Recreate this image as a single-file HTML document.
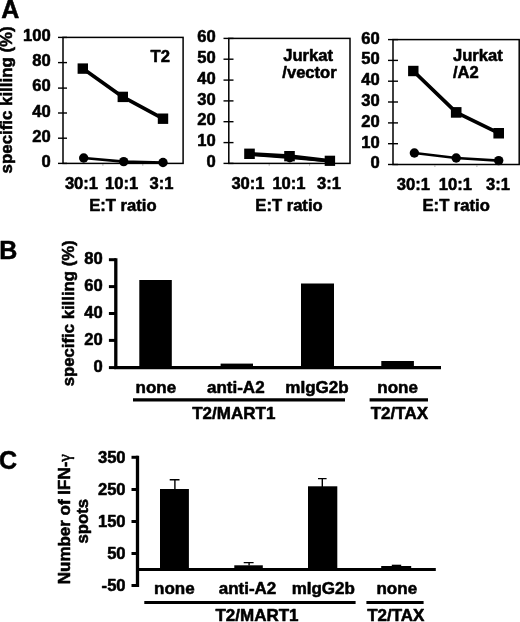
<!DOCTYPE html>
<html><head><meta charset="utf-8">
<style>
html,body{margin:0;padding:0;background:#fff;}
body{width:520px;height:622px;overflow:hidden;}
svg{display:block;will-change:transform;transform:translateZ(0);}
text{font-family:"Liberation Sans",sans-serif;font-weight:bold;fill:#000;stroke:#000;stroke-width:0.55px;stroke-linejoin:round;}
.t{font-size:16.6px;}
.e{text-anchor:end;}
.m{text-anchor:middle;}
.ax{stroke:#000;stroke-width:1.5;fill:none;}
.tk{stroke:#000;stroke-width:1.4;}
.ln{stroke:#000;stroke-width:3.7;fill:none;stroke-linejoin:round;}
.ln2{stroke:#000;stroke-width:2.6;fill:none;}
.bk{fill:#000;}
.thick{stroke:#000;stroke-width:2.8;fill:none;}
.ul{stroke:#000;stroke-width:3.2;}
.eb{stroke:#000;stroke-width:1.4;fill:none;}
</style></head><body>
<svg width="520" height="622" viewBox="0 0 520 622">
<rect width="520" height="622" fill="#fff"/>

<!-- Panel letters -->
<text x="1.2" y="17.8" style="font-size:25px">A</text>
<text x="-0.8" y="259.1" style="font-size:25px">B</text>
<text x="-1.1" y="468.8" style="font-size:25px">C</text>

<!-- ===== Panel A chart 1 ===== -->
<g>
<text class="t" transform="translate(12.4,173.4) rotate(-90)" style="font-size:16.8px" textLength="147" lengthAdjust="spacingAndGlyphs">specific killing (%)</text>
<rect class="ax" x="63" y="37.4" width="120.1" height="126"/>
<g class="tk">
<line x1="58" x2="67" y1="37.4" y2="37.4"/>
<line x1="58" x2="67" y1="62.6" y2="62.6"/>
<line x1="58" x2="67" y1="88.1" y2="88.1"/>
<line x1="58" x2="67" y1="113" y2="113"/>
<line x1="58" x2="67" y1="138.2" y2="138.2"/>
<line x1="58" x2="67" y1="163.4" y2="163.4"/>
</g>
<g class="t e">
<text x="50.7" y="41">100</text>
<text x="50.7" y="66.2">80</text>
<text x="50.7" y="91.4">60</text>
<text x="50.7" y="116.6">40</text>
<text x="50.7" y="141.8">20</text>
<text x="50.7" y="167">0</text>
</g>
<polyline class="ln" points="82.8,68.6 122.8,96.9 163,118.7"/>
<rect class="bk" x="77.6" y="63.4" width="10.4" height="10.4"/>
<rect class="bk" x="117.6" y="91.7" width="10.4" height="10.4"/>
<rect class="bk" x="157.8" y="113.5" width="10.4" height="10.4"/>
<polyline class="ln2" points="83.7,158 123.7,161.6 163,162.5"/>
<circle class="bk" cx="83.7" cy="158" r="4.7"/>
<circle class="bk" cx="123.7" cy="161.6" r="4.7"/>
<circle class="bk" cx="163" cy="162.5" r="4.7"/>
<text class="t" x="150.5" y="62">T2</text>
<g class="t m">
<text x="81.5" y="188.6">30:1</text>
<text x="121.6" y="188.6">10:1</text>
<text x="161.6" y="188.6">3:1</text>
</g>
<text class="m" x="122.9" y="211" style="font-size:16.6px">E:T ratio</text>
</g>

<!-- ===== Panel A chart 2 ===== -->
<g>
<rect class="ax" x="228.8" y="38.4" width="121.2" height="125"/>
<g class="tk">
<line x1="223.5" x2="233.5" y1="38.4" y2="38.4"/>
<line x1="223.5" x2="233.5" y1="59.2" y2="59.2"/>
<line x1="223.5" x2="233.5" y1="80.1" y2="80.1"/>
<line x1="223.5" x2="233.5" y1="100.9" y2="100.9"/>
<line x1="223.5" x2="233.5" y1="121.7" y2="121.7"/>
<line x1="223.5" x2="233.5" y1="142.6" y2="142.6"/>
<line x1="223.5" x2="233.5" y1="163.4" y2="163.4"/>
</g>
<g class="t e">
<text x="215.8" y="42">60</text>
<text x="215.8" y="62.8">50</text>
<text x="215.8" y="83.7">40</text>
<text x="215.8" y="104.5">30</text>
<text x="215.8" y="125.3">20</text>
<text x="215.8" y="146.2">10</text>
<text x="215.8" y="167">0</text>
</g>
<polyline class="ln2" points="249.7,154.6 289.8,157.6 330,161.2"/>
<circle class="bk" cx="289.8" cy="157.9" r="4.5"/>
<polyline class="ln" points="249.5,153.8 289.5,156.2 329.9,160.8"/>
<rect class="bk" x="244.2" y="148.6" width="10.6" height="10.4"/>
<rect class="bk" x="284.2" y="151" width="10.6" height="10.3"/>
<rect class="bk" x="324.7" y="155.7" width="10.4" height="10.2"/>
<text class="t" x="283.2" y="61.2">Jurkat</text>
<text class="t" x="282.3" y="78.2">/vector</text>
<g class="t m">
<text x="248" y="189">30:1</text>
<text x="289" y="189">10:1</text>
<text x="329" y="189">3:1</text>
</g>
<text class="m" x="289" y="211" style="font-size:16.6px">E:T ratio</text>
</g>

<!-- ===== Panel A chart 3 ===== -->
<g>
<rect class="ax" x="393" y="39.6" width="126.2" height="124.9"/>
<g class="tk">
<line x1="388" x2="398" y1="39.6" y2="39.6"/>
<line x1="388" x2="398" y1="60.4" y2="60.4"/>
<line x1="388" x2="398" y1="81.2" y2="81.2"/>
<line x1="388" x2="398" y1="102" y2="102"/>
<line x1="388" x2="398" y1="122.9" y2="122.9"/>
<line x1="388" x2="398" y1="143.7" y2="143.7"/>
<line x1="388" x2="398" y1="164.5" y2="164.5"/>
</g>
<g class="t e">
<text x="379.8" y="43.5">60</text>
<text x="379.8" y="64.3">50</text>
<text x="379.8" y="85.1">40</text>
<text x="379.8" y="105.9">30</text>
<text x="379.8" y="126.8">20</text>
<text x="379.8" y="147.6">10</text>
<text x="379.8" y="168.4">0</text>
</g>
<polyline class="ln" points="413.3,71 456.2,112.4 498.7,133.2"/>
<rect class="bk" x="408.1" y="65.8" width="10.4" height="10.4"/>
<rect class="bk" x="450.9" y="107.1" width="10.6" height="10.6"/>
<rect class="bk" x="493.4" y="128" width="10.6" height="10.5"/>
<polyline class="ln2" points="414.4,153 456.2,158 498.7,160.6"/>
<circle class="bk" cx="414.4" cy="153" r="4.7"/>
<circle class="bk" cx="456.2" cy="158" r="4.7"/>
<circle class="bk" cx="498.7" cy="160.6" r="4.7"/>
<text class="t" x="453" y="60.7">Jurkat</text>
<text class="t" x="453" y="77.5">/A2</text>
<g class="t m">
<text x="413.4" y="189.6">30:1</text>
<text x="455.4" y="189.6">10:1</text>
<text x="497.9" y="189.6">3:1</text>
</g>
<text class="m" x="456.2" y="211" style="font-size:16.6px">E:T ratio</text>
</g>

<g stroke="#9a9a9a" stroke-width="1">
<line x1="102.9" x2="102.9" y1="164" y2="165.6"/><line x1="142.8" x2="142.8" y1="164" y2="165.6"/>
<line x1="269.2" x2="269.2" y1="164" y2="165.6"/><line x1="309.6" x2="309.6" y1="164" y2="165.6"/>
<line x1="434.9" x2="434.9" y1="165.2" y2="166.8"/><line x1="476.9" x2="476.9" y1="165.2" y2="166.8"/>
</g>
<!-- ===== Panel B ===== -->
<g>
<text class="t" transform="translate(73.8,386.3) rotate(-90)" textLength="146" lengthAdjust="spacingAndGlyphs">specific killing (%)</text>
<path class="thick" style="stroke-width:3.3" d="M115.8,258.2 V367.6 H441"/>
<g class="thick" style="stroke-width:3">
<line x1="108.9" x2="116" y1="259.7" y2="259.7"/>
<line x1="108.9" x2="116" y1="286.6" y2="286.6"/>
<line x1="108.9" x2="116" y1="313.5" y2="313.5"/>
<line x1="108.9" x2="116" y1="340.4" y2="340.4"/>
<line x1="108.9" x2="116" y1="367.6" y2="367.6"/>
</g>
<g class="t e">
<text x="102.8" y="264.2">80</text>
<text x="102.8" y="291">60</text>
<text x="102.8" y="317.9">40</text>
<text x="102.8" y="344.9">20</text>
<text x="102.8" y="372">0</text>
</g>
<rect class="bk" x="139.3" y="280" width="32.5" height="87.5"/>
<rect class="bk" x="220.6" y="363.6" width="32.4" height="4"/>
<rect class="bk" x="301" y="283.5" width="33" height="84"/>
<rect class="bk" x="381.3" y="361" width="32.6" height="6.5"/>
<g class="m" style="font-size:17px">
<text x="155.9" y="392.5">none</text>
<text x="235.8" y="392.5">anti-A2</text>
<text x="317" y="392.5">mIgG2b</text>
<text x="397.6" y="392.5">none</text>
<text x="233.8" y="419">T2/MART1</text>
<text x="399.4" y="419">T2/TAX</text>
</g>
<line class="ul" x1="133" x2="345" y1="399.8" y2="399.8"/>
<line class="ul" x1="369.6" x2="428" y1="399.8" y2="399.8"/>
</g>

<!-- ===== Panel C ===== -->
<g>
<text transform="translate(70.3,584.2) rotate(-90)" style="font-size:17px" textLength="130" lengthAdjust="spacingAndGlyphs">Number of IFN-<tspan style="font-family:'Liberation Serif',serif;font-weight:normal">γ</tspan></text>
<text transform="translate(87.6,543.6) rotate(-90)" style="font-size:17px" textLength="44.6" lengthAdjust="spacingAndGlyphs">spots</text>
<path class="thick" style="stroke-width:3.3" d="M137.5,455.8 V587"/>
<path class="thick" style="stroke-width:3.2" d="M137.5,569.5 H435.8"/>
<g class="thick" style="stroke-width:3">
<line x1="131.5" x2="138" y1="457.3" y2="457.3"/>
<line x1="131.5" x2="138" y1="489.5" y2="489.5"/>
<line x1="131.5" x2="138" y1="521.5" y2="521.5"/>
<line x1="131.5" x2="138" y1="553.5" y2="553.5"/>
<line x1="131.5" x2="138" y1="585.5" y2="585.5"/>
</g>
<g class="t e">
<text x="125.6" y="462.7">350</text>
<text x="125.6" y="494.5">250</text>
<text x="125.6" y="526.5">150</text>
<text x="125.6" y="558.5">50</text>
<text x="125.6" y="590.5">-50</text>
</g>
<rect class="bk" x="160" y="489" width="28.9" height="80.5"/>
<rect class="bk" x="234.3" y="565.3" width="28.5" height="5"/>
<rect class="bk" x="308" y="486.3" width="29.3" height="83"/>
<rect class="bk" x="381.2" y="566" width="30" height="4"/>
<path class="eb" d="M174.9,489.5 V479.8 M169.7,479.8 H179.5"/>
<path class="eb" d="M249.1,565.5 V562.6 M243.7,562.6 H253.6"/>
<path class="eb" d="M322.3,487 V478.6 M318,478.6 H326.6"/>
<rect class="bk" x="391.8" y="564.7" width="9.4" height="2"/>
<g class="m" style="font-size:17px">
<text x="174.4" y="594.4">none</text>
<text x="247.5" y="594.4">anti-A2</text>
<text x="323.3" y="594.4">mIgG2b</text>
<text x="396.8" y="594.4">none</text>
<text x="257" y="620.6">T2/MART1</text>
<text x="395.8" y="620.6">T2/TAX</text>
</g>
<line class="ul" x1="144.3" x2="355.6" y1="602.5" y2="602.5"/>
<line class="ul" x1="366.4" x2="423.6" y1="602.5" y2="602.5"/>
</g>
</svg>
</body></html>
